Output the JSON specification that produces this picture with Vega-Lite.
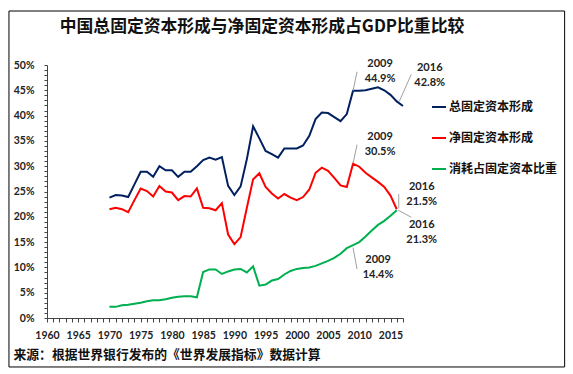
{
  "$schema": "https://vega.github.io/schema/vega-lite/v6.json",
  "width": 356,
  "height": 253,
  "padding": {"left": 8, "top": 10, "right": 5, "bottom": 5},
  "background": "white",
  "title": {
    "text": "中国总固定资本形成与净固定资本形成占GDP比重比较",
    "font": "Noto Sans CJK SC",
    "fontSize": 16.8,
    "fontWeight": "bold",
    "color": "#111111",
    "anchor": "middle",
    "dx": 37,
    "dy": 25,
    "offset": 0
  },
  "config": {"view": {"stroke": null}},
  "datasets": {
    "series": [
      {"year": 1970, "series": "总固定资本形成", "value": 23.8},
      {"year": 1971, "series": "总固定资本形成", "value": 24.3},
      {"year": 1972, "series": "总固定资本形成", "value": 24.2},
      {"year": 1973, "series": "总固定资本形成", "value": 23.9},
      {"year": 1974, "series": "总固定资本形成", "value": 26.4},
      {"year": 1975, "series": "总固定资本形成", "value": 28.9},
      {"year": 1976, "series": "总固定资本形成", "value": 28.9},
      {"year": 1977, "series": "总固定资本形成", "value": 27.9},
      {"year": 1978, "series": "总固定资本形成", "value": 30.0},
      {"year": 1979, "series": "总固定资本形成", "value": 29.2},
      {"year": 1980, "series": "总固定资本形成", "value": 29.2},
      {"year": 1981, "series": "总固定资本形成", "value": 27.9},
      {"year": 1982, "series": "总固定资本形成", "value": 28.9},
      {"year": 1983, "series": "总固定资本形成", "value": 28.9},
      {"year": 1984, "series": "总固定资本形成", "value": 30.0},
      {"year": 1985, "series": "总固定资本形成", "value": 31.2},
      {"year": 1986, "series": "总固定资本形成", "value": 31.7},
      {"year": 1987, "series": "总固定资本形成", "value": 31.3},
      {"year": 1988, "series": "总固定资本形成", "value": 31.8},
      {"year": 1989, "series": "总固定资本形成", "value": 26.1},
      {"year": 1990, "series": "总固定资本形成", "value": 24.3},
      {"year": 1991, "series": "总固定资本形成", "value": 26.0},
      {"year": 1992, "series": "总固定资本形成", "value": 31.4},
      {"year": 1993, "series": "总固定资本形成", "value": 37.9},
      {"year": 1994, "series": "总固定资本形成", "value": 35.5},
      {"year": 1995, "series": "总固定资本形成", "value": 33.0},
      {"year": 1996, "series": "总固定资本形成", "value": 32.4},
      {"year": 1997, "series": "总固定资本形成", "value": 31.7},
      {"year": 1998, "series": "总固定资本形成", "value": 33.5},
      {"year": 1999, "series": "总固定资本形成", "value": 33.5},
      {"year": 2000, "series": "总固定资本形成", "value": 33.5},
      {"year": 2001, "series": "总固定资本形成", "value": 34.1},
      {"year": 2002, "series": "总固定资本形成", "value": 36.0},
      {"year": 2003, "series": "总固定资本形成", "value": 39.3},
      {"year": 2004, "series": "总固定资本形成", "value": 40.6},
      {"year": 2005, "series": "总固定资本形成", "value": 40.5},
      {"year": 2006, "series": "总固定资本形成", "value": 39.7},
      {"year": 2007, "series": "总固定资本形成", "value": 38.9},
      {"year": 2008, "series": "总固定资本形成", "value": 40.3},
      {"year": 2009, "series": "总固定资本形成", "value": 44.9},
      {"year": 2010, "series": "总固定资本形成", "value": 44.9},
      {"year": 2011, "series": "总固定资本形成", "value": 45.0},
      {"year": 2012, "series": "总固定资本形成", "value": 45.3},
      {"year": 2013, "series": "总固定资本形成", "value": 45.6},
      {"year": 2014, "series": "总固定资本形成", "value": 45.0},
      {"year": 2015, "series": "总固定资本形成", "value": 44.1},
      {"year": 2016, "series": "总固定资本形成", "value": 42.8},
      {"year": 2017, "series": "总固定资本形成", "value": 41.9},
      {"year": 1970, "series": "净固定资本形成", "value": 21.5},
      {"year": 1971, "series": "净固定资本形成", "value": 21.8},
      {"year": 1972, "series": "净固定资本形成", "value": 21.5},
      {"year": 1973, "series": "净固定资本形成", "value": 20.9},
      {"year": 1974, "series": "净固定资本形成", "value": 23.3},
      {"year": 1975, "series": "净固定资本形成", "value": 25.6},
      {"year": 1976, "series": "净固定资本形成", "value": 25.1},
      {"year": 1977, "series": "净固定资本形成", "value": 24.0},
      {"year": 1978, "series": "净固定资本形成", "value": 26.1},
      {"year": 1979, "series": "净固定资本形成", "value": 25.0},
      {"year": 1980, "series": "净固定资本形成", "value": 24.8},
      {"year": 1981, "series": "净固定资本形成", "value": 23.3},
      {"year": 1982, "series": "净固定资本形成", "value": 24.1},
      {"year": 1983, "series": "净固定资本形成", "value": 24.0},
      {"year": 1984, "series": "净固定资本形成", "value": 25.6},
      {"year": 1985, "series": "净固定资本形成", "value": 21.8},
      {"year": 1986, "series": "净固定资本形成", "value": 21.7},
      {"year": 1987, "series": "净固定资本形成", "value": 21.3},
      {"year": 1988, "series": "净固定资本形成", "value": 22.7},
      {"year": 1989, "series": "净固定资本形成", "value": 16.5},
      {"year": 1990, "series": "净固定资本形成", "value": 14.6},
      {"year": 1991, "series": "净固定资本形成", "value": 16.0},
      {"year": 1992, "series": "净固定资本形成", "value": 21.8},
      {"year": 1993, "series": "净固定资本形成", "value": 27.4},
      {"year": 1994, "series": "净固定资本形成", "value": 28.6},
      {"year": 1995, "series": "净固定资本形成", "value": 25.9},
      {"year": 1996, "series": "净固定资本形成", "value": 24.6},
      {"year": 1997, "series": "净固定资本形成", "value": 23.6},
      {"year": 1998, "series": "净固定资本形成", "value": 24.5},
      {"year": 1999, "series": "净固定资本形成", "value": 23.8},
      {"year": 2000, "series": "净固定资本形成", "value": 23.3},
      {"year": 2001, "series": "净固定资本形成", "value": 23.9},
      {"year": 2002, "series": "净固定资本形成", "value": 25.4},
      {"year": 2003, "series": "净固定资本形成", "value": 28.7},
      {"year": 2004, "series": "净固定资本形成", "value": 29.7},
      {"year": 2005, "series": "净固定资本形成", "value": 29.1},
      {"year": 2006, "series": "净固定资本形成", "value": 27.7},
      {"year": 2007, "series": "净固定资本形成", "value": 26.2},
      {"year": 2008, "series": "净固定资本形成", "value": 25.9},
      {"year": 2009, "series": "净固定资本形成", "value": 30.5},
      {"year": 2010, "series": "净固定资本形成", "value": 29.9},
      {"year": 2011, "series": "净固定资本形成", "value": 28.7},
      {"year": 2012, "series": "净固定资本形成", "value": 27.8},
      {"year": 2013, "series": "净固定资本形成", "value": 26.9},
      {"year": 2014, "series": "净固定资本形成", "value": 25.9},
      {"year": 2015, "series": "净固定资本形成", "value": 24.2},
      {"year": 2016, "series": "净固定资本形成", "value": 21.5},
      {"year": 1970, "series": "消耗占固定资本比重", "value": 2.2},
      {"year": 1971, "series": "消耗占固定资本比重", "value": 2.2},
      {"year": 1972, "series": "消耗占固定资本比重", "value": 2.5},
      {"year": 1973, "series": "消耗占固定资本比重", "value": 2.6},
      {"year": 1974, "series": "消耗占固定资本比重", "value": 2.8},
      {"year": 1975, "series": "消耗占固定资本比重", "value": 3.0},
      {"year": 1976, "series": "消耗占固定资本比重", "value": 3.3},
      {"year": 1977, "series": "消耗占固定资本比重", "value": 3.5},
      {"year": 1978, "series": "消耗占固定资本比重", "value": 3.5},
      {"year": 1979, "series": "消耗占固定资本比重", "value": 3.7},
      {"year": 1980, "series": "消耗占固定资本比重", "value": 4.0},
      {"year": 1981, "series": "消耗占固定资本比重", "value": 4.2},
      {"year": 1982, "series": "消耗占固定资本比重", "value": 4.3},
      {"year": 1983, "series": "消耗占固定资本比重", "value": 4.3},
      {"year": 1984, "series": "消耗占固定资本比重", "value": 4.1},
      {"year": 1985, "series": "消耗占固定资本比重", "value": 9.1},
      {"year": 1986, "series": "消耗占固定资本比重", "value": 9.6},
      {"year": 1987, "series": "消耗占固定资本比重", "value": 9.6},
      {"year": 1988, "series": "消耗占固定资本比重", "value": 8.7},
      {"year": 1989, "series": "消耗占固定资本比重", "value": 9.2},
      {"year": 1990, "series": "消耗占固定资本比重", "value": 9.6},
      {"year": 1991, "series": "消耗占固定资本比重", "value": 9.7},
      {"year": 1992, "series": "消耗占固定资本比重", "value": 9.0},
      {"year": 1993, "series": "消耗占固定资本比重", "value": 10.2},
      {"year": 1994, "series": "消耗占固定资本比重", "value": 6.4},
      {"year": 1995, "series": "消耗占固定资本比重", "value": 6.6},
      {"year": 1996, "series": "消耗占固定资本比重", "value": 7.4},
      {"year": 1997, "series": "消耗占固定资本比重", "value": 7.7},
      {"year": 1998, "series": "消耗占固定资本比重", "value": 8.6},
      {"year": 1999, "series": "消耗占固定资本比重", "value": 9.3},
      {"year": 2000, "series": "消耗占固定资本比重", "value": 9.7},
      {"year": 2001, "series": "消耗占固定资本比重", "value": 9.9},
      {"year": 2002, "series": "消耗占固定资本比重", "value": 10.0},
      {"year": 2003, "series": "消耗占固定资本比重", "value": 10.3},
      {"year": 2004, "series": "消耗占固定资本比重", "value": 10.8},
      {"year": 2005, "series": "消耗占固定资本比重", "value": 11.3},
      {"year": 2006, "series": "消耗占固定资本比重", "value": 11.9},
      {"year": 2007, "series": "消耗占固定资本比重", "value": 12.7},
      {"year": 2008, "series": "消耗占固定资本比重", "value": 13.8},
      {"year": 2009, "series": "消耗占固定资本比重", "value": 14.4},
      {"year": 2010, "series": "消耗占固定资本比重", "value": 15.0},
      {"year": 2011, "series": "消耗占固定资本比重", "value": 16.1},
      {"year": 2012, "series": "消耗占固定资本比重", "value": 17.3},
      {"year": 2013, "series": "消耗占固定资本比重", "value": 18.4},
      {"year": 2014, "series": "消耗占固定资本比重", "value": 19.2},
      {"year": 2015, "series": "消耗占固定资本比重", "value": 20.2},
      {"year": 2016, "series": "消耗占固定资本比重", "value": 21.3}
    ],
    "notes": [
      {"year": 2009, "series": "总固定资本形成", "value": 44.9, "label": "2009\n44.9%"},
      {"year": 2016, "series": "总固定资本形成", "value": 42.8, "label": "2016\n42.8%"},
      {"year": 2009, "series": "净固定资本形成", "value": 30.5, "label": "2009\n30.5%"},
      {"year": 2016, "series": "净固定资本形成", "value": 21.5, "label": "2016\n21.5%"},
      {"year": 2009, "series": "消耗占固定资本比重", "value": 14.4, "label": "2009\n14.4%"},
      {"year": 2016, "series": "消耗占固定资本比重", "value": 21.3, "label": "2016\n21.3%"}
    ]
  },
  "resolve": {"axis": {"x": "independent", "y": "independent"}},
  "layer": [
    {
      "data": {"values": [{}]},
      "mark": {"type": "rect", "filled": false, "color": "#000000", "strokeWidth": 1},
      "encoding": {
        "x": {"datum": 1953.91, "type": "quantitative", "axis": null},
        "x2": {"datum": 2042.88},
        "y": {"datum": 60.67, "type": "quantitative", "axis": null},
        "y2": {"datum": -9.68}
      }
    },
    {
      "encoding": {
        "x": {
          "field": "year",
          "type": "quantitative",
          "scale": {"domain": [1960, 2017], "nice": false, "zero": false},
          "axis": {
            "values": [1960,1961,1962,1963,1964,1965,1966,1967,1968,1969,1970,1971,1972,1973,1974,1975,1976,1977,1978,1979,1980,1981,1982,1983,1984,1985,1986,1987,1988,1989,1990,1991,1992,1993,1994,1995,1996,1997,1998,1999,2000,2001,2002,2003,2004,2005,2006,2007,2008,2009,2010,2011,2012,2013,2014,2015,2016,2017],
            "labelExpr": "datum.value % 5 === 0 ? '' + datum.value : ''",
            "labelOverlap": false,
            "labelFlush": false,
            "labelBound": false,
            "grid": false,
            "tickSize": 4,
            "tickColor": "#444444",
            "domainColor": "#444444",
            "labelFont": "Lato",
            "labelFontSize": 10.5,
            "labelFontWeight": "bold",
            "labelColor": "#222222",
            "labelPadding": 8,
            "title": "来源：根据世界银行发布的《世界发展指标》数据计算",
            "titleFont": "Noto Sans CJK SC",
            "titleFontSize": 12.8,
            "titleFontWeight": "bold",
            "titleColor": "#111111",
            "titleAlign": "left",
            "titleAnchor": "start",
            "titleBaseline": "middle",
            "titleX": -34,
            "titleY": 36
          }
        },
        "y": {
          "field": "value",
          "type": "quantitative",
          "scale": {"domain": [0, 50], "nice": false},
          "axis": {
            "values": [0,1,2,3,4,5,6,7,8,9,10,11,12,13,14,15,16,17,18,19,20,21,22,23,24,25,26,27,28,29,30,31,32,33,34,35,36,37,38,39,40,41,42,43,44,45,46,47,48,49,50],
            "labelExpr": "datum.value % 5 === 0 ? datum.value + '%' : ''",
            "labelOverlap": false,
            "labelBound": false,
            "grid": false,
            "tickSize": 3,
            "tickColor": "#444444",
            "domainColor": "#444444",
            "labelFont": "Lato",
            "labelFontSize": 10.5,
            "labelFontWeight": "bold",
            "labelColor": "#222222",
            "labelPadding": 10,
            "title": null
          }
        }
      },
      "layer": [
        {
          "data": {"name": "series"},
          "mark": {"type": "line", "strokeWidth": 2},
          "encoding": {
            "color": {
              "field": "series",
              "type": "nominal",
              "scale": {
                "domain": ["总固定资本形成", "净固定资本形成", "消耗占固定资本比重"],
                "range": ["#002060", "#ff0000", "#00b050"]
              },
              "legend": {
                "orient": "none",
                "legendX": 384,
                "legendY": 34,
                "title": null,
                "padding": 0,
                "symbolType": "stroke",
                "symbolSize": 196,
                "symbolStrokeWidth": 2,
                "labelFont": "Noto Sans CJK SC",
                "labelFontSize": 12,
                "labelFontWeight": "bold",
                "labelColor": "#111111",
                "labelOffset": 2,
                "rowPadding": 17
              }
            }
          }
        },
        {
          "data": {"name": "notes"},
          "transform": [{"filter": "datum.year === 2009 && datum.series !== '消耗占固定资本比重'"}],
          "mark": {"type": "rule", "color": "#a0a0a0", "strokeWidth": 1, "x2Offset": 4, "y2Offset": -19},
          "encoding": {"x2": {"field": "year"}, "y2": {"field": "value"}}
        },
        {
          "data": {"name": "notes"},
          "transform": [{"filter": "datum.year === 2016 && datum.series === '总固定资本形成'"}],
          "mark": {"type": "rule", "color": "#a0a0a0", "strokeWidth": 1, "xOffset": 2.5, "x2Offset": 14.5, "y2Offset": -27},
          "encoding": {"x2": {"field": "year"}, "y2": {"field": "value"}}
        },
        {
          "data": {"name": "notes"},
          "transform": [{"filter": "datum.year === 2016 && datum.series === '净固定资本形成'"}],
          "mark": {"type": "rule", "color": "#a0a0a0", "strokeWidth": 1, "xOffset": 2, "yOffset": -1, "x2Offset": 2, "y2Offset": -15},
          "encoding": {"x2": {"field": "year"}, "y2": {"field": "value"}}
        },
        {
          "data": {"name": "notes"},
          "transform": [{"filter": "datum.year === 2016 && datum.series === '消耗占固定资本比重'"}],
          "mark": {"type": "rule", "color": "#a0a0a0", "strokeWidth": 1, "xOffset": 1.5, "x2Offset": 14.5, "y2Offset": 7},
          "encoding": {"x2": {"field": "year"}, "y2": {"field": "value"}}
        },
        {
          "data": {"name": "notes"},
          "transform": [{"filter": "datum.year === 2009 && datum.series === '消耗占固定资本比重'"}],
          "mark": {"type": "rule", "color": "#a0a0a0", "strokeWidth": 1, "yOffset": 2.5, "x2Offset": 4, "y2Offset": 24},
          "encoding": {"x2": {"field": "year"}, "y2": {"field": "value"}}
        },
        {
          "data": {"name": "notes"},
          "transform": [{"filter": "datum.year === 2009 && datum.series !== '消耗占固定资本比重'"}],
          "mark": {"type": "text", "align": "center", "baseline": "top", "dx": 27, "dy": -33, "lineBreak": "\n", "lineHeight": 15, "font": "Lato", "fontSize": 11, "fontWeight": "bold", "color": "#222222"},
          "encoding": {"text": {"field": "label"}}
        },
        {
          "data": {"name": "notes"},
          "transform": [{"filter": "datum.year === 2016 && datum.series === '总固定资本形成'"}],
          "mark": {"type": "text", "align": "center", "baseline": "top", "dx": 33, "dy": -39, "lineBreak": "\n", "lineHeight": 15, "font": "Lato", "fontSize": 11, "fontWeight": "bold", "color": "#222222"},
          "encoding": {"text": {"field": "label"}}
        },
        {
          "data": {"name": "notes"},
          "transform": [{"filter": "datum.year === 2016 && datum.series === '净固定资本形成'"}],
          "mark": {"type": "text", "align": "center", "baseline": "top", "dx": 25, "dy": -28, "lineBreak": "\n", "lineHeight": 15, "font": "Lato", "fontSize": 11, "fontWeight": "bold", "color": "#222222"},
          "encoding": {"text": {"field": "label"}}
        },
        {
          "data": {"name": "notes"},
          "transform": [{"filter": "datum.series === '消耗占固定资本比重'"}],
          "mark": {"type": "text", "align": "center", "baseline": "top", "dx": 25, "dy": 8.5, "lineBreak": "\n", "lineHeight": 15, "font": "Lato", "fontSize": 11, "fontWeight": "bold", "color": "#222222"},
          "encoding": {"text": {"field": "label"}}
        }
      ]
    }
  ]
}
